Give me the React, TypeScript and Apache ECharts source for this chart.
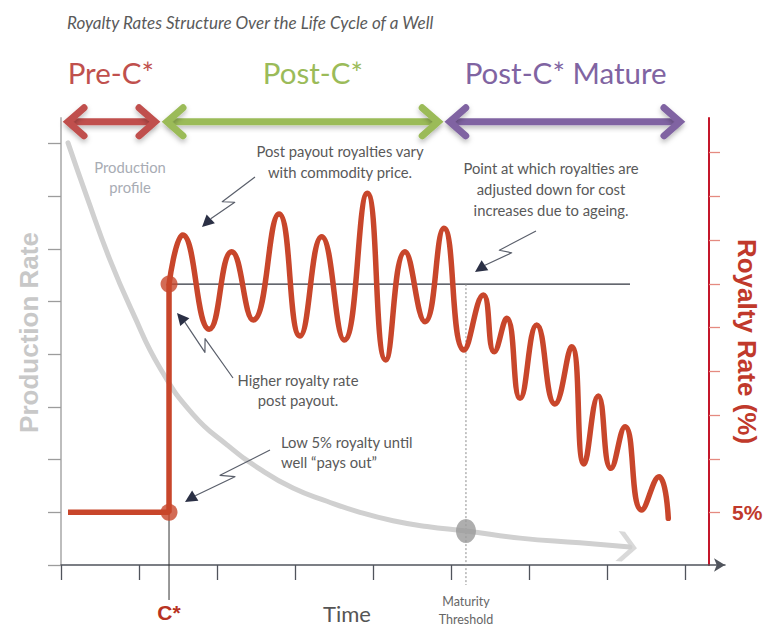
import React, { useEffect, useRef } from 'react';
import * as echarts from 'echarts';

// ---------- data ----------
const chartTitle = 'Royalty Rates Structure Over the Life Cycle of a Well';

const timeTicks = [0, 1, 2, 3, 4, 5, 6, 7, 8];
const productionTicks = [0, 1, 2, 3, 4, 5, 6, 7, 8];
const royaltyTicks = [1, 2.01, 2.85, 3.68, 4.52, 5.33, 6.17, 7.0, 7.84];
const royaltyLabelTicks = [1];
const royaltyLabelText = ['5%'];

const xMax = 8.513;
const yMax = 8.482;

const cStar = 1.385;
const maturityThreshold = 5.192;
const lowRoyalty = 1.0;
const postPayoutRoyalty = 5.33;
const preCStartX = 0.09;
const postPayoutLineEnd = 7.295;
const cStarTickBottom = -0.664;
const maturityLineBottom = -0.38;
const maturityProduction = 0.645;

const productionX = [0.09, 0.333, 0.628, 0.923, 1.269, 1.692, 2.128, 2.551, 2.974, 3.41, 3.833, 4.256, 4.692, 5.192, 5.885, 6.654, 7.295];
const productionY = [8.01, 6.98, 5.79, 4.78, 3.74, 2.86, 2.28, 1.82, 1.46, 1.21, 1.0, 0.84, 0.73, 0.645, 0.51, 0.42, 0.34];

const royaltyX = [1.385, 1.56, 1.901, 2.188, 2.465, 2.795, 3.064, 3.342, 3.632, 3.927, 4.163, 4.41, 4.667, 4.91, 5.167, 5.414, 5.555, 5.714, 5.885, 6.099, 6.333, 6.547, 6.705, 6.888, 7.051, 7.231, 7.445, 7.667, 7.786];
const royaltyY = [5.332, 6.262, 4.473, 5.945, 4.649, 6.66, 4.345, 6.23, 4.269, 7.053, 3.89, 5.945, 4.617, 6.389, 4.08, 5.123, 4.047, 4.681, 3.163, 4.554, 3.055, 4.142, 1.917, 3.207, 1.835, 2.624, 1.044, 1.676, 0.886];

const phaseNames = ['Pre-C*', 'Post-C*', 'Post-C* Mature'];
const phaseStart = [0.026, 1.295, 4.92];
const phaseEnd = [1.27, 4.9, 8.0];
const phaseLabelX = [0.64, 3.23, 6.47];
const phaseLevel = 8.41;
const phaseLabelLevel = 9.34;
const phaseColors = ['#c0504d', '#9bbb59', '#8064a2'];

// ---------- styles ----------
const RED = '#c8462b';
const RED_TEXT = '#c0392b';
const TEXT_GRAY = '#595959';
const SANS = 'Lato, "Open Sans", sans-serif';
const BOLD_SANS = '"Liberation Sans", Arial, sans-serif';

const pairs = (xs: number[], ys: number[]) => xs.map((x, i) => [x, ys[i]]);

function buildOption() {
  return {
    animation: false,
    backgroundColor: '#ffffff',
    title: {
      text: chartTitle,
      left: 62,
      top: 9,
      textStyle: { fontFamily: SANS, fontStyle: 'italic', fontWeight: 'normal', fontSize: 17, color: '#5a5a5a' },
    },
    grid: { left: 61, top: 118, right: 38, bottom: 61, outerBoundsMode: 'none', containLabel: false },
    xAxis: {
      type: 'value',
      min: 0,
      max: xMax,
      axisLine: {
        show: true,
        onZero: false,
        symbol: ['none', 'arrow'],
        symbolSize: [10, 11],
        lineStyle: { color: '#50545c', width: 1.5 },
      },
      axisTick: { show: true, length: 15, customValues: timeTicks, lineStyle: { color: '#50545c', width: 1.3 } },
      axisLabel: {
        show: true,
        customValues: [cStar, maturityThreshold],
        margin: 27,
        hideOverlap: false,
        formatter: (v: number) => (Math.abs(v - cStar) < 1e-6 ? '{c|C*}' : '{m|Maturity}\n{m|Threshold}'),
        rich: {
          c: { fontFamily: BOLD_SANS, fontWeight: 'bold', fontSize: 21, color: '#b83222', lineHeight: 40 },
          m: { fontFamily: SANS, fontSize: 12.5, color: '#666666', lineHeight: 18 },
        },
      },
      splitLine: { show: false },
    },
    yAxis: [
      {
        type: 'value',
        min: 0,
        max: yMax,
        position: 'left',
        axisLine: { show: true, onZero: false, lineStyle: { color: '#bdbdbd', width: 2 } },
        axisTick: { show: true, length: 13, customValues: productionTicks, lineStyle: { color: '#9c9c9c', width: 1.3 } },
        axisLabel: { show: false },
        splitLine: { show: false },
        name: 'Production Rate',
        nameLocation: 'middle',
        nameGap: 19,
        nameMoveOverlap: false,
        nameTextStyle: {
          color: '#c8c8c8',
          fontFamily: BOLD_SANS,
          fontWeight: 'bold',
          fontSize: 26,
          padding: [0, 0, 0, 18],
        },
      },
      {
        type: 'value',
        min: 0,
        max: yMax,
        position: 'right',
        offset: -16,
        axisLine: { show: true, onZero: false, lineStyle: { color: '#c4162a', width: 2 } },
        axisTick: { show: true, length: 11, customValues: royaltyTicks, lineStyle: { color: '#e58a80', width: 1.3 } },
        axisLabel: {
          show: true,
          customValues: royaltyLabelTicks,
          formatter: (v: number) => royaltyLabelText[royaltyLabelTicks.findIndex((t) => Math.abs(t - v) < 1e-6)] || '',
          margin: 23,
          color: RED_TEXT,
          fontFamily: BOLD_SANS,
          fontWeight: 'bold',
          fontSize: 21,
        },
        splitLine: { show: false },
        name: 'Royalty Rate (%)',
        nameLocation: 'middle',
        nameRotate: -90,
        nameGap: 25,
        nameMoveOverlap: false,
        nameTextStyle: { color: RED_TEXT, fontFamily: BOLD_SANS, fontWeight: 'bold', fontSize: 26 },
      },
    ],
    series: [
      {
        name: 'Production profile',
        type: 'line',
        yAxisIndex: 0,
        smooth: 0.5,
        symbol: 'none',
        silent: true,
        z: 2,
        lineStyle: { color: '#d0d0d0', width: 5, cap: 'round' },
        data: pairs(productionX, productionY),
      },
      {
        name: 'Production arrow',
        type: 'scatter',
        yAxisIndex: 0,
        silent: true,
        z: 2,
        symbol: 'path://M0,0 L7,0 L22,15 L7,30 L0,30 L15,15 Z',
        symbolSize: [20, 30],
        symbolRotate: -6,
        symbolOffset: [-3, 0],
        itemStyle: { color: '#d0d0d0' },
        data: [[productionX[productionX.length - 1], productionY[productionY.length - 1]]],
      },
      {
        name: 'Post payout base',
        type: 'line',
        yAxisIndex: 1,
        symbol: 'none',
        silent: true,
        z: 1,
        lineStyle: { color: '#30343f', width: 1.3 },
        data: [[cStar, postPayoutRoyalty], [postPayoutLineEnd, postPayoutRoyalty]],
      },
      {
        name: 'C* tick',
        type: 'line',
        yAxisIndex: 1,
        symbol: 'none',
        silent: true,
        clip: false,
        z: 1,
        lineStyle: { color: '#333333', width: 1 },
        data: [[cStar, lowRoyalty], [cStar, cStarTickBottom]],
      },
      {
        name: 'Maturity threshold',
        type: 'line',
        yAxisIndex: 1,
        symbol: 'none',
        silent: true,
        clip: false,
        z: 1,
        lineStyle: { color: '#8a8a8a', width: 1, type: [2, 2] },
        data: [[maturityThreshold, postPayoutRoyalty], [maturityThreshold, maturityLineBottom]],
      },
      {
        name: 'Royalty pre-payout',
        type: 'line',
        yAxisIndex: 1,
        symbol: 'none',
        silent: true,
        z: 4,
        lineStyle: { color: RED, width: 5.5 },
        data: [[preCStartX, lowRoyalty], [cStar, lowRoyalty], [cStar, postPayoutRoyalty]],
      },
      {
        name: 'Royalty post-payout',
        type: 'line',
        yAxisIndex: 1,
        smooth: 0.5,
        symbol: 'none',
        silent: true,
        z: 4,
        lineStyle: { color: RED, width: 5.5, cap: 'round' },
        data: pairs(royaltyX, royaltyY),
      },
      {
        name: 'Royalty points',
        type: 'scatter',
        yAxisIndex: 1,
        silent: true,
        z: 5,
        symbolSize: 17,
        itemStyle: { color: RED },
        data: [[cStar, lowRoyalty], [cStar, postPayoutRoyalty]],
      },
      {
        name: 'Maturity point',
        type: 'scatter',
        yAxisIndex: 0,
        silent: true,
        z: 5,
        symbolSize: [20, 24],
        itemStyle: { color: '#9a9a9a' },
        data: [[maturityThreshold, maturityProduction]],
      },
    ],
  };
}

// ---------- annotation helpers ----------
const callouts = [
  { s: [255, 177], t: [202, 227] },
  { s: [233, 378], t: [177, 313] },
  { s: [270, 450], t: [185, 502] },
  { s: [536, 231], t: [475, 272] },
];

const notes = [
  { text: 'Post payout royalties vary\nwith commodity price.', x: 340, y: 151, align: 'center', lh: 21, color: TEXT_GRAY },
  { text: 'Point at which royalties are\nadjusted down for cost\nincreases due to ageing.', x: 551, y: 168, align: 'center', lh: 21, color: TEXT_GRAY },
  { text: 'Higher royalty rate\npost payout.', x: 298, y: 380, align: 'center', lh: 20, color: TEXT_GRAY },
  { text: 'Low 5% royalty until\nwell \u201cpays out\u201d', x: 281, y: 442, align: 'left', lh: 20, color: TEXT_GRAY },
  { text: 'Production\nprofile', x: 130, y: 167, align: 'center', lh: 20, color: '#a8acb4' },
];

function textEl(text: string, x: number, y: number, opts: any) {
  return {
    type: 'text',
    x,
    y,
    silent: true,
    z: 10,
    style: {
      text,
      fill: opts.color,
      fontSize: opts.size,
      fontFamily: opts.family || SANS,
      fontWeight: opts.weight || 'normal',
      lineHeight: opts.lh,
      align: opts.align || 'center',
      textAlign: opts.align || 'center',
      verticalAlign: opts.valign || 'middle',
      textVerticalAlign: opts.valign || 'middle',
    },
  };
}

function calloutEls(s: number[], t: number[]) {
  const dx = t[0] - s[0];
  const dy = t[1] - s[1];
  const L = Math.hypot(dx, dy);
  const ux = dx / L;
  const uy = dy / L;
  const nx = -uy;
  const ny = ux;
  const w = 4.5;
  const a = [s[0] + ux * L * 0.56 + nx * w, s[1] + uy * L * 0.56 + ny * w];
  const b = [s[0] + ux * L * 0.44 - nx * w, s[1] + uy * L * 0.44 - ny * w];
  const headLen = 12;
  const base = [t[0] - ux * headLen, t[1] - uy * headLen];
  return [
    {
      type: 'polyline',
      silent: true,
      z: 10,
      shape: { points: [s, a, b, base] },
      style: { stroke: '#5a5f6b', lineWidth: 1.2, fill: null, lineJoin: 'round' },
    },
    {
      type: 'polygon',
      silent: true,
      z: 10,
      shape: {
        points: [t, [base[0] + nx * 6, base[1] + ny * 6], [base[0] - nx * 6, base[1] - ny * 6]],
      },
      style: { fill: '#2b3045' },
    },
  ];
}

function buildGraphics(px: (x: number, y: number) => number[]) {
  const els: any[] = [];
  phaseNames.forEach((name, i) => {
    const [x0, y] = px(phaseStart[i], phaseLevel);
    const [x1] = px(phaseEnd[i], phaseLevel);
    const c = phaseColors[i];
    const shadow = { shadowBlur: 5, shadowOffsetY: 3, shadowColor: 'rgba(0,0,0,0.25)' };
    const ls = { stroke: c, lineWidth: 7, lineCap: 'round', lineJoin: 'miter', fill: null, ...shadow };
    els.push({
      type: 'rect',
      silent: true,
      z: 9,
      shape: { x: x0 + 6, y: y - 3.5, width: x1 - x0 - 12, height: 7 },
      style: { fill: c, ...shadow },
    });
    els.push({ type: 'polyline', silent: true, z: 9, shape: { points: [[x0 + 21, y - 14], [x0 + 5, y], [x0 + 21, y + 14]] }, style: ls });
    els.push({ type: 'polyline', silent: true, z: 9, shape: { points: [[x1 - 21, y - 14], [x1 - 5, y], [x1 - 21, y + 14]] }, style: ls });
    const [lx, ly] = px(phaseLabelX[i], phaseLabelLevel);
    els.push(textEl(name, lx, ly, { color: c, size: 29.5, family: SANS }));
  });
  notes.forEach((n) => {
    els.push(textEl(n.text, n.x, n.y - n.lh / 2, { color: n.color, size: 14.8, lh: n.lh, align: n.align, valign: 'top' }));
  });
  callouts.forEach((c) => els.push(...calloutEls(c.s, c.t)));
  els.push(textEl('Time', 347, 613, { color: '#555555', size: 22 }));
  return els;
}

export default function App() {
  const ref = useRef<HTMLDivElement>(null);
  useEffect(() => {
    const chart = echarts.init(ref.current as HTMLDivElement, null, { renderer: 'svg' });
    chart.setOption(buildOption() as any);
    const px = (x: number, y: number) =>
      chart.convertToPixel({ xAxisIndex: 0, yAxisIndex: 0 }, [x, y]) as number[];
    chart.setOption({ graphic: buildGraphics(px) } as any);
    return () => chart.dispose();
  }, []);
  return (
    <div
      ref={ref}
      style={{ position: 'absolute', left: 0, top: 0, width: 763, height: 626, background: '#ffffff' }}
    />
  );
}
